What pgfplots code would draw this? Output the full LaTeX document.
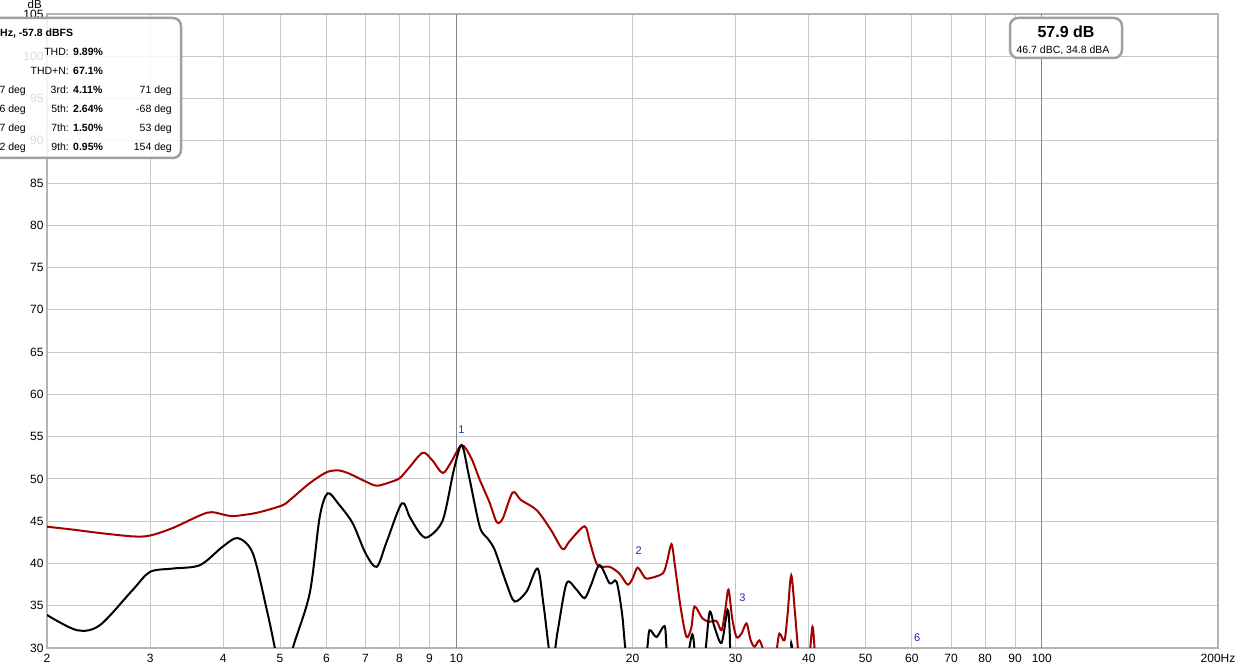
\documentclass[border=0pt]{standalone}
\usepackage{fontspec}
\setmainfont{Liberation Sans}
\usepackage{pgfplots}
\pgfplotsset{compat=1.18}
\definecolor{gridc}{HTML}{C8C8C8}
\definecolor{majc}{HTML}{858585}
\definecolor{framec}{HTML}{B4B4B4}
\definecolor{boxc}{HTML}{A0A0A0}
\definecolor{redc}{HTML}{A30000}
\definecolor{markc}{HTML}{2424B4}

\pgfplotstableread{
f db
2.000 44.35
2.216 44.0
2.462 43.6
2.804 43.2
2.998 43.3
3.281 44.2
3.751 46.0
3.993 45.8
4.153 45.6
4.493 45.9
4.747 46.3
5.056 46.9
5.197 47.5
5.62 49.5
6.008 50.8
6.3 51.0
6.577 50.6
7.0 49.7
7.313 49.2
7.7 49.6
8.006 50.1
8.3 51.3
8.764 53.1
9.1 52.2
9.480 50.7
9.8 52.0
10.213 54.0
10.6 52.5
10.966 49.9
11.4 47.2
11.724 44.9
12.0 45.3
12.482 48.4
12.9 47.5
13.72 46.3
14.5 44.0
15.19 41.7
15.6 42.6
16.56 44.4
16.9 42.6
17.43 39.8
18.28 39.6
19.0 38.8
19.61 37.5
20.0 38.2
20.40 39.5
20.9 38.5
21.22 38.2
22.50 38.8
22.9 40.2
23.31 42.3
23.6 40.0
23.77 38.4
24.2 34.5
24.73 31.3
25.2 32.4
25.52 34.9
26.33 33.5
27.07 33.1
27.82 33.2
28.38 32.1
28.8 34.5
29.17 36.9
29.6 33.5
30.10 31.3
30.7 31.7
31.31 32.9
31.8 31.0
32.31 30.15
32.95 30.9
33.5 29.5
33.85 28
34.5 27
35.2 29.5
35.63 31.7
36.34 30.9
36.8 34
37.33 38.6
37.9 34
38.56 28
39.3 25
40.0 28
40.58 32.5
41.0 29
41.38 25
42 20
}\redtab

\pgfplotstableread{
f db
2.000 33.9
2.251 32.1
2.462 32.7
2.804 36.9
2.998 39.0
3.281 39.4
3.649 39.8
3.993 42.0
4.236 43.0
4.493 41.2
4.747 34.5
4.899 30.0
5.05 25
5.258 30
5.62 36.5
5.845 45.5
6.032 48.3
6.3 47.0
6.655 44.75
7.0 41.2
7.313 39.6
7.6 42.5
8.069 47.1
8.327 45.5
8.661 43.6
8.938 43.1
9.480 45.1
9.9 51.0
10.213 54.0
10.5 50.5
10.966 44.35
11.3 43.0
11.632 41.6
12.2 37.5
12.58 35.5
13.19 36.7
13.77 39.4
14.1 35
14.55 28
14.9 32
15.43 37.65
16.0 37.0
16.56 35.9
17.0 37.5
17.57 39.8
18.28 37.65
18.78 37.85
19.2 34
19.53 29
20.3 25
21.13 29.5
21.38 32.1
21.98 31.3
22.68 32.6
22.86 30
23.2 25
24.5 27
25.3 31.6
25.7 28
26.5 28.5
27.07 34.2
27.6 32.5
28.38 30.6
29.06 34.5
29.3 32
29.52 25
30.5 20
36.8 27
37.33 30.6
37.8 27
}\blacktab

\begin{document}
\begin{tikzpicture}[x=1pt,y=1pt]
\path[use as bounding box] (-47,-21) rectangle (1193,648);
\clip (-47,-21) rectangle (1193,648);
\begin{axis}[
  at={(0,0)}, anchor=south west,
  scale only axis, width=1171pt, height=634pt,
  xmode=log, xmin=2, xmax=200, ymin=30, ymax=105,
  xtick={2,3,4,5,6,7,8,9,10,20,30,40,50,60,70,80,90,100,200},
  xticklabels={2,3,4,5,6,7,8,9,10,20,30,40,50,60,70,80,90,100,200Hz},
  ytick={30,35,...,105},
  minor xtick={},
  grid=major,
  major grid style={draw=gridc, line width=1pt},
  tick style={draw=none},
  axis line style={draw=framec, line width=2.5pt},
  tick label style={font=\fontsize{12}{14}\selectfont},
  xticklabel style={yshift=-3pt},
  /pgf/number format/assume math mode=true,
  clip mode=individual,
]
\draw[majc, line width=1pt] (axis cs:10,30) -- (axis cs:10,105);
\draw[majc, line width=1pt] (axis cs:100,30) -- (axis cs:100,105);
\addplot[redc, line width=2pt, smooth, tension=0.5] table[x=f,y=db] {\redtab};
\addplot[black, line width=2pt, smooth, tension=0.5] table[x=f,y=db] {\blacktab};
\node[markc, font=\fontsize{11}{12}\selectfont] at (axis cs:10.2,55.8) {1};
\node[markc, font=\fontsize{11}{12}\selectfont] at (axis cs:20.48,41.5) {2};
\node[markc, font=\fontsize{11}{12}\selectfont] at (axis cs:30.8,35.9) {3};
\node[markc, font=\fontsize{11}{12}\selectfont] at (axis cs:61.29,31.2) {6};
\end{axis}
% dB label
\node[anchor=base east, inner sep=0, font=\fontsize{11.5}{13}\selectfont] at (-5,639.5) {dB};
% left info box
\draw[boxc, line width=2.5pt, rounded corners=8pt, fill=white, fill opacity=0.85] (-70,630) rectangle (134,490);
\begin{scope}[every node/.style={inner sep=0, font=\fontsize{10.5}{12}\selectfont}]
\node[anchor=base west] at (-47,611.2) {\textbf{Hz, -57.8 dBFS}};
\node[anchor=base east] at (22,592.2) {THD:};
\node[anchor=base west] at (26,592.2) {\textbf{9.89\%}};
\node[anchor=base east] at (22,573.7) {THD+N:};
\node[anchor=base west] at (26,573.7) {\textbf{67.1\%}};
\node[anchor=base east] at (-21,554.7) {7 deg};
\node[anchor=base east] at (22,554.7) {3rd:};
\node[anchor=base west] at (26,554.7) {\textbf{4.11\%}};
\node[anchor=base east] at (125,554.7) {71 deg};
\node[anchor=base east] at (-21,535.7) {6 deg};
\node[anchor=base east] at (22,535.7) {5th:};
\node[anchor=base west] at (26,535.7) {\textbf{2.64\%}};
\node[anchor=base east] at (125,535.7) {-68 deg};
\node[anchor=base east] at (-21,516.7) {7 deg};
\node[anchor=base east] at (22,516.7) {7th:};
\node[anchor=base west] at (26,516.7) {\textbf{1.50\%}};
\node[anchor=base east] at (125,516.7) {53 deg};
\node[anchor=base east] at (-21,497.7) {2 deg};
\node[anchor=base east] at (22,497.7) {9th:};
\node[anchor=base west] at (26,497.7) {\textbf{0.95\%}};
\node[anchor=base east] at (125,497.7) {154 deg};
\end{scope}
% right level box
\draw[boxc, line width=2.5pt, rounded corners=8pt, fill=white] (963,630) rectangle (1075,590);
\node[anchor=base, inner sep=0, font=\fontsize{16}{18}\selectfont\bfseries] at (1019,610) {57.9 dB};
\node[anchor=base, inner sep=0, font=\fontsize{10.5}{12}\selectfont] at (1016,594) {46.7 dBC, 34.8 dBA};
\end{tikzpicture}
\end{document}
